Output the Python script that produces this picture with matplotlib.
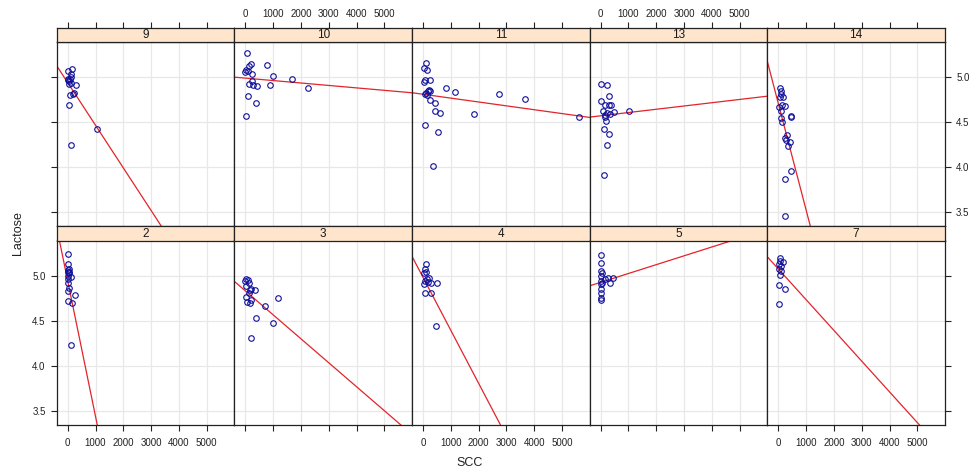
import matplotlib
matplotlib.use("Agg")
import matplotlib.pyplot as plt
import numpy as np

plt.rcParams['font.family'] = ['Liberation Sans', 'DejaVu Sans']

# ---- data ----
panel_labels = ["9", "10", "11", "13", "14", "2", "3", "4", "5", "7"]

scc_9 = [168, 12, 132, 132, 84, 0, 60, 120, 36, 312, 228, 84, 60, 1056, 120, 180, 10]
lac_9 = [5.085, 5.063, 5.037, 5.007, 4.98, 4.963, 4.952, 4.937, 4.926, 4.908, 4.823, 4.797, 4.69, 4.424, 4.25, 4.815, 4.98]

scc_10 = [61, 207, 134, 793, 24, 98, 0, 256, 1000, 232, 146, 280, 403, 903, 1659, 2245, 110, 390, 24]
lac_10 = [5.27, 5.148, 5.129, 5.137, 5.074, 5.063, 5.052, 5.037, 5.015, 4.952, 4.926, 4.915, 4.90, 4.915, 4.98, 4.88, 4.786, 4.708, 4.568]

scc_11 = [108, 36, 156, 84, 240, 36, 180, 252, 120, 156, 240, 432, 816, 1140, 2736, 3684, 432, 612, 1848, 5600, 72, 540, 360, 72, 216]
lac_11 = [5.159, 5.103, 5.081, 4.97, 4.97, 4.941, 4.845, 4.845, 4.823, 4.80, 4.749, 4.712, 4.874, 4.83, 4.808, 4.752, 4.627, 4.60, 4.59, 4.557, 4.468, 4.394, 4.01, 4.808, 4.86]

scc_13 = [0, 216, 312, 0, 144, 360, 288, 96, 480, 240, 336, 1020, 168, 204, 120, 288, 240, 108, 144]
lac_13 = [4.919, 4.908, 4.786, 4.734, 4.686, 4.69, 4.686, 4.619, 4.616, 4.60, 4.593, 4.623, 4.557, 4.512, 4.427, 4.372, 4.242, 3.913, 4.575]

scc_14 = [72, 108, 84, 156, 60, 24, 120, 252, 84, 108, 144, 444, 468, 324, 252, 276, 420, 360, 468, 252, 252]
lac_14 = [4.882, 4.845, 4.808, 4.778, 4.778, 4.667, 4.686, 4.675, 4.623, 4.549, 4.50, 4.568, 4.557, 4.357, 4.327, 4.298, 4.283, 4.231, 3.954, 3.865, 3.463]

scc_2 = [0, 0, 48, 0, 0, 48, 24, 132, 0, 0, 48, 0, 264, 0, 144, 108, 48]
lac_2 = [5.241, 5.133, 5.081, 5.067, 5.048, 5.026, 5.0, 4.989, 4.963, 4.919, 4.867, 4.833, 4.789, 4.726, 4.704, 4.23, 5.044]

scc_3 = [24, 85, 0, 122, 37, 195, 330, 122, 37, 195, 49, 183, 720, 1159, 390, 976, 207, 159]
lac_3 = [4.97, 4.956, 4.944, 4.919, 4.889, 4.852, 4.844, 4.815, 4.77, 4.733, 4.715, 4.696, 4.67, 4.759, 4.537, 4.481, 4.307, 4.844]

scc_4 = [95, 59, 118, 36, 213, 142, 59, 273, 498, 47, 190, 59, 273, 450]
lac_4 = [5.126, 5.074, 5.044, 5.03, 4.981, 4.963, 4.944, 4.926, 4.926, 4.907, 4.933, 4.815, 4.815, 4.448]

scc_5 = [24, 0, 24, 48, 24, 144, 264, 456, 324, 24, 24, 24, 24, 24, 24, 48]
lac_5 = [5.233, 5.144, 5.056, 5.03, 5.0, 4.963, 4.974, 4.978, 4.922, 4.944, 4.907, 4.859, 4.815, 4.759, 4.733, 4.926]

scc_7 = [60, 60, 180, 36, 12, 84, 60, 12, 252, 36, 84]
lac_7 = [5.193, 5.167, 5.159, 5.13, 5.081, 5.056, 5.007, 4.9, 4.852, 4.689, 5.104]

# fitted regression lines per panel (intercept, slope) as seen in the chart
fit_intercept = [4.939, 4.989, 4.810, 4.571, 4.706, 4.943, 4.833, 4.983, 4.928, 5.076]
fit_slope = [-4.73e-4, -2.71e-5, -4.29e-5, 3.63e-5, -1.182e-3, -1.503e-3, -2.66e-4, -5.88e-4, 9.81e-5, -3.41e-4]

x_ticks = [0, 1000, 2000, 3000, 4000, 5000]
y_ticks = [3.5, 4.0, 4.5, 5.0]
y_tick_labels = ["3.5", "4.0", "4.5", "5.0"]

scc_all = [scc_9, scc_10, scc_11, scc_13, scc_14, scc_2, scc_3, scc_4, scc_5, scc_7]
lac_all = [lac_9, lac_10, lac_11, lac_13, lac_14, lac_2, lac_3, lac_4, lac_5, lac_7]

# ---- layout ----
W, H = 974, 472
fig = plt.figure(figsize=(W / 100, H / 100), dpi=100)

left_px = 56.7
pw = 177.66
ph = 184.5
sh = 14.2
row_top = [27.6, 226.3]   # top of strip per row

xlim = (-396, 5993)
ylim = (3.345, 5.392)

strip_col = "#ffe5cc"
frame_col = "#222222"

for i, lab in enumerate(panel_labels):
    r, c = divmod(i, 5)
    x0 = left_px + c * pw
    st = row_top[r]
    ptop = st + sh
    ax = fig.add_axes([x0 / W, 1 - (ptop + ph) / H, pw / W, ph / H])
    sax = fig.add_axes([x0 / W, 1 - ptop / H, pw / W, sh / H])
    sax.set_facecolor(strip_col)
    sax.set_xticks([]); sax.set_yticks([])
    for s in sax.spines.values():
        s.set_color(frame_col); s.set_linewidth(0.9)
    sax.text(0.5, 0.45, lab, ha="center", va="center", fontsize=8.5, color="#1a1a1a",
             transform=sax.transAxes)

    ax.set_xlim(*xlim); ax.set_ylim(*ylim)
    for xt in x_ticks:
        ax.axvline(xt, color="#e8e8e8", lw=0.9, zorder=0)
    for yt in y_ticks:
        ax.axhline(yt, color="#e8e8e8", lw=0.9, zorder=0)

    ax.plot(scc_all[i], lac_all[i], linestyle="none", marker="o", markersize=4.0,
            markerfacecolor="none", markeredgecolor="#10109a", markeredgewidth=0.8, zorder=3)
    xs = np.array(xlim)
    ax.plot(xs, fit_intercept[i] + fit_slope[i] * xs, color="#e3242b", lw=0.9, zorder=2)

    for s in ax.spines.values():
        s.set_color(frame_col); s.set_linewidth(0.9)

    ax.set_xticks(x_ticks)
    ax.set_yticks(y_ticks)
    ax.set_yticklabels(y_tick_labels)
    ax.tick_params(colors=frame_col, labelcolor="#222222", labelsize=7, length=4.5, width=0.8)

    if r == 0:
        ax.tick_params(axis="x", top=False, bottom=False, labeltop=False, labelbottom=False)
        # top ticks drawn on strip axis
        sax.set_xlim(*xlim)
        sax.set_xticks(x_ticks)
        sax.tick_params(axis="x", top=True, bottom=False, labelbottom=False,
                        labeltop=(c in (1, 3)), colors=frame_col, labelcolor="#222222",
                        labelsize=7, length=4.5, width=0.8, pad=2)
    else:
        ax.tick_params(axis="x", top=False, bottom=True, labeltop=False,
                       labelbottom=(c in (0, 2, 4)), pad=5)

    # y ticks
    if c == 0:
        ax.tick_params(axis="y", left=True, right=False, labelleft=(r == 1), labelright=False)
    elif c == 4:
        ax.tick_params(axis="y", left=False, right=True, labelleft=False, labelright=(r == 0))
    else:
        ax.tick_params(axis="y", left=False, right=False, labelleft=False, labelright=False)

fig.text(470 / W, 1 - 463 / H, "SCC", ha="center", va="center", fontsize=9, color="#222222")
fig.text(18 / W, 1 - 233 / H, "Lactose", ha="center", va="center", rotation=90,
         fontsize=9, color="#222222")

fig.savefig("out.png", dpi=100, facecolor="white")
